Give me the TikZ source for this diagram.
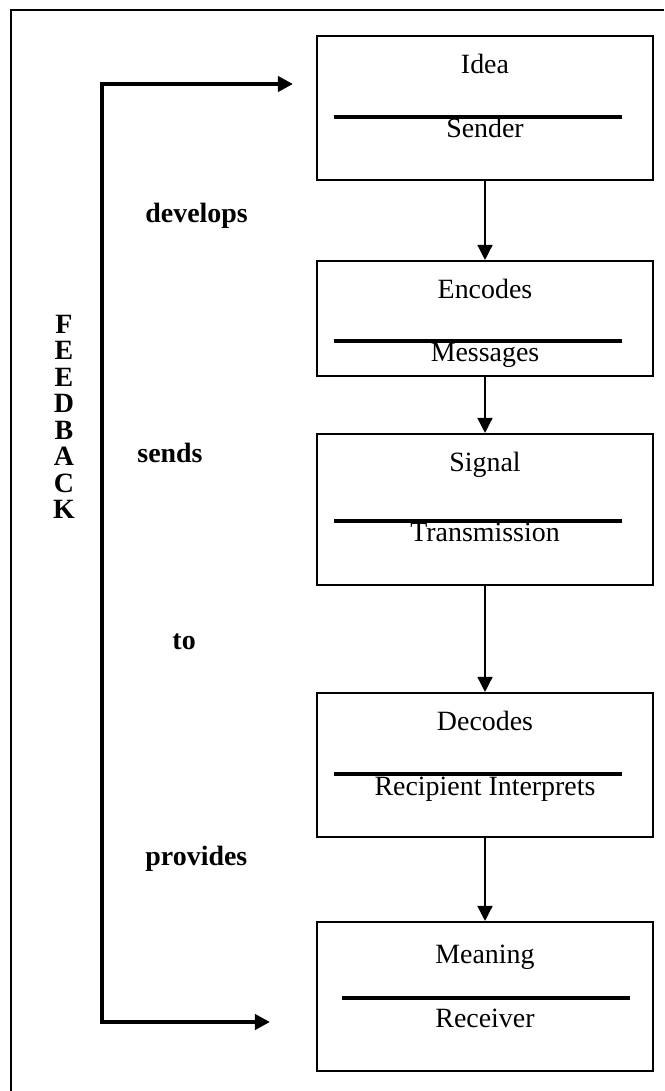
\documentclass[tikz,border=0pt]{standalone}
\usepackage{fontspec}
\setmainfont{Liberation Serif}
\usetikzlibrary{arrows.meta}
\usetikzlibrary{fit}

\begin{document}
\begin{tikzpicture}[x=0.43pt,y=-0.43pt,
  stagebox/.style={draw=black,line width=0.9pt,inner sep=0pt},
  boxtext/.style={anchor=base,inner sep=0pt,font=\fontsize{12}{14}\selectfont},
  sidelabel/.style={anchor=base west,inner sep=0pt,font=\fontsize{12}{14}\selectfont\bfseries},
  sepline/.style={line width=1.6pt},
  flow/.style={line width=0.6pt,-{Triangle[width=6.5pt,length=6.5pt]}},
  feedline/.style={line width=1.7pt,{Triangle[width=6.5pt,length=6.5pt]}-{Triangle[width=6.5pt,length=6.5pt]}}]
  \useasboundingbox (0,0) rectangle (664,1091);
  % outer frame
  \draw[line width=0.8pt] (11,1091) -- (11,10) -- (664,10);

  % stages
  \node[stagebox,fit={(317,36) (653,180)}] (idea) {};
  \node[stagebox,fit={(317,261) (653,376)}] (encodes) {};
  \node[stagebox,fit={(317,434) (653,585)}] (signal) {};
  \node[stagebox,fit={(317,693) (653,837)}] (decodes) {};
  \node[stagebox,fit={(317,922) (653,1071)}] (meaning) {};

  \node[boxtext] (ideatop) at (485,73) {Idea};
  \node[boxtext] (ideabot) at (485,137) {Sender};
  \node[boxtext] (encodestop) at (485,298) {Encodes};
  \node[boxtext] (encodesbot) at (485,361) {Messages};
  \node[boxtext] (signaltop) at (485,471) {Signal};
  \node[boxtext] (signalbot) at (485,541) {Transmission};
  \node[boxtext] (decodestop) at (485,730) {Decodes};
  \node[boxtext] (decodesbot) at (485,795) {Recipient Interprets};
  \node[boxtext] (meaningtop) at (485,963) {Meaning};
  \node[boxtext] (meaningbot) at (485,1027) {Receiver};

  \foreach \y in {117,341,521,774}
    \draw[sepline] (334,\y) -- (622,\y);
  \draw[sepline] (342,998) -- (630,998);

  \draw[flow] (idea) -- (encodes);
  \draw[flow] (encodes) -- (signal);
  \draw[flow] (signal) -- (decodes);
  \draw[flow] (decodes) -- (meaning);

  % feedback loop
  \coordinate (fbin) at (293,84);
  \coordinate (fbtop) at (102,84);
  \coordinate (fbbot) at (102,1022);
  \coordinate (fbout) at (270,1022);
  \draw[feedline] (fbout) -- (fbbot) -- (fbtop) -- (fbin);

  \foreach \l [count=\i from 0] in {F,E,E,D,B,A,C,K}
    \node[boxtext,font=\fontsize{12}{14}\selectfont\bfseries] (fb\i) at (64,333+26.5*\i) {\l};

  \node[sidelabel] (develops) at (145,222) {develops};
  \node[sidelabel] (sends) at (137,462) {sends};
  \node[sidelabel] (to) at (172,649) {to};
  \node[sidelabel] (provides) at (145,865) {provides};
\end{tikzpicture}
\end{document}
